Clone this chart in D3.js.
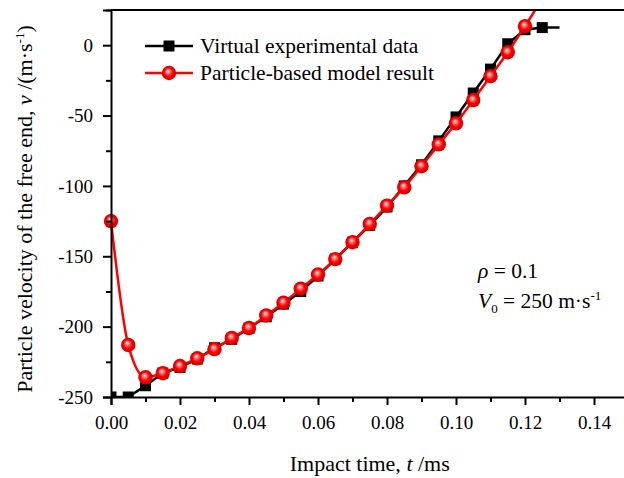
<!DOCTYPE html>
<html>
<head>
<meta charset="utf-8">
<script src="https://cdn.jsdelivr.net/npm/d3@7/dist/d3.min.js"></script>
<style>
  html, body { margin: 0; padding: 0; background: #fff; }
  svg { display: block; font-family: "Liberation Serif", "Times New Roman", Times, serif; }
  text { font-family: "Liberation Serif", "Times New Roman", Times, serif; fill: #000; }
</style>
</head>
<body>
<svg id="chart" width="624" height="478"></svg>
<script>
// Impact time (ms) sampled every 0.005 ms
const timeVirtual = [0, 0.005, 0.01, 0.015, 0.02, 0.025, 0.03, 0.035, 0.04, 0.045, 0.05,
  0.055, 0.06, 0.065, 0.07, 0.075, 0.08, 0.085, 0.09, 0.095, 0.1, 0.105, 0.11, 0.115,
  0.12, 0.125, 0.13];
const velocityVirtual = [-250, -250, -242, -233, -229, -223, -215, -209, -201, -193, -184,
  -175, -164, -152, -140, -128, -115, -100, -85, -68, -51, -34, -17, 1,
  11, 12.5, 12.5];

const timeModel = [0, 0.005, 0.01, 0.015, 0.02, 0.025, 0.03, 0.035, 0.04, 0.045, 0.05,
  0.055, 0.06, 0.065, 0.07, 0.075, 0.08, 0.085, 0.09, 0.095, 0.1, 0.105, 0.11, 0.115,
  0.12, 0.125];
const velocityModel = [-125, -213, -236, -233, -228, -222.5, -216, -208, -201, -192, -183,
  -173, -163, -152, -140, -127, -114, -101, -86, -70.5, -55.5, -39, -22, -5,
  13.5, 33];

const xTicks = [0, 0.02, 0.04, 0.06, 0.08, 0.10, 0.12, 0.14];
const yTicks = [-250, -200, -150, -100, -50, 0];
const legendLabels = ["Virtual experimental data", "Particle-based model result"];

const FONT = "Liberation Serif, Times New Roman, Times, serif";
const svg = d3.select("#chart");
const margin = { left: 111, top: 10, bottom: 81 };
const W = 624, H = 478;
const plotH = H - margin.top - margin.bottom;

const x = d3.scaleLinear().domain([0, 0.15]).range([margin.left, margin.left + 0.15 * 3450]);
const y = d3.scaleLinear().domain([-250, 25]).range([margin.top + plotH, margin.top]);

const defs = svg.append("defs");
defs.append("clipPath").attr("id", "plotClip")
  .append("rect")
  .attr("x", x(0)).attr("y", y(25))
  .attr("width", x(0.15) - x(0)).attr("height", y(-250) - y(25));
defs.append("clipPath").attr("id", "topClip")
  .append("rect")
  .attr("x", 0).attr("y", y(25))
  .attr("width", W).attr("height", H);

const grad = defs.append("radialGradient").attr("id", "ball")
  .attr("cx", "50%").attr("cy", "50%").attr("r", "50%")
  .attr("fx", "42%").attr("fy", "35%");
grad.append("stop").attr("offset", "0%").attr("stop-color", "#ffffff");
grad.append("stop").attr("offset", "25%").attr("stop-color", "#ff8080");
grad.append("stop").attr("offset", "60%").attr("stop-color", "#ff0000");
grad.append("stop").attr("offset", "100%").attr("stop-color", "#d00000");

const virtual = timeVirtual.map((t, i) => ({ t, v: velocityVirtual[i] }));
const model = timeModel.map((t, i) => ({ t, v: velocityModel[i] }));

// Virtual experimental trace: straight segments with square markers
const gVirtual = svg.append("g").attr("clip-path", "url(#plotClip)");
gVirtual.append("path")
  .datum(virtual)
  .attr("fill", "none").attr("stroke", "#000").attr("stroke-width", 2.5)
  .attr("d", d3.line().x(d => x(d.t)).y(d => y(d.v)));
const sq = 11;
gVirtual.selectAll("rect.sq")
  .data(virtual.slice(0, -1))
  .join("rect").attr("class", "sq")
  .attr("x", d => x(d.t) - sq / 2).attr("y", d => y(d.v) - sq / 2)
  .attr("width", sq).attr("height", sq).attr("fill", "#000");

// Particle-based model: smooth curve with shaded ball markers
const gModel = svg.append("g").attr("clip-path", "url(#topClip)");
gModel.append("path")
  .datum(model)
  .attr("fill", "none").attr("stroke", "#ff0000").attr("stroke-width", 2.5)
  .attr("d", d3.line().curve(d3.curveMonotoneX).x(d => x(d.t)).y(d => y(d.v)));
gModel.selectAll("circle.ball")
  .data(model.filter(d => d.v <= 25))
  .join("circle").attr("class", "ball")
  .attr("cx", d => x(d.t)).attr("cy", d => y(d.v)).attr("r", 7.2)
  .attr("fill", "url(#ball)");

// Axes
const xAxis = svg.append("g").attr("transform", `translate(0,${y(-250)})`)
  .call(d3.axisBottom(x).tickValues(xTicks).tickFormat(d3.format(".2f")).tickSize(8).tickPadding(6));
svg.append("g").attr("transform", `translate(0,${y(-250)})`)
  .call(d3.axisBottom(x).tickValues(d3.range(0.01, 0.15, 0.02)).tickFormat("").tickSize(5))
  .select(".domain").remove();
const yAxis = svg.append("g").attr("transform", `translate(${x(0)},0)`)
  .call(d3.axisLeft(y).tickValues(yTicks).tickSize(8).tickPadding(10));
svg.append("g").attr("transform", `translate(${x(0)},0)`)
  .call(d3.axisLeft(y).tickValues([-225, -175, -125, -75, -25, 25]).tickFormat("").tickSize(5))
  .select(".domain").remove();

svg.selectAll("g").attr("font-family", FONT);
svg.selectAll(".domain").attr("stroke", "#000").attr("stroke-width", 2);
svg.selectAll(".tick line").attr("stroke", "#000").attr("stroke-width", 2);
svg.selectAll(".tick text")
  .attr("font-family", FONT)
  .attr("font-size", 19).attr("fill", "#000");
xAxis.selectAll(".tick text").attr("dy", "0.95em");
yAxis.selectAll(".tick text").text(d => d3.format("d")(d).replace("−", "-"));

// Top frame line
svg.append("line")
  .attr("x1", x(0)).attr("x2", x(0.15)).attr("y1", y(25)).attr("y2", y(25))
  .attr("stroke", "#000").attr("stroke-width", 2);

// Axis titles
const xt = svg.append("text")
  .attr("x", (x(0) + x(0.15)) / 2).attr("y", 471)
  .attr("text-anchor", "middle").attr("font-size", 22);
xt.append("tspan").text("Impact time, ");
xt.append("tspan").attr("font-style", "italic").text("t");
xt.append("tspan").text(" /ms");

const yt = svg.append("text")
  .attr("transform", `translate(32,209) rotate(-90)`)
  .attr("text-anchor", "middle").attr("font-size", 22);
yt.append("tspan").text("Particle velocity of the free end, ");
yt.append("tspan").attr("font-style", "italic").text("v");
yt.append("tspan").text(" /(m·s");
yt.append("tspan").attr("font-size", 13).attr("dy", -8).text("-1");
yt.append("tspan").attr("dy", 8).text(")");

// Legend
const leg = svg.append("g");
[0, 1].forEach(i => {
  const ly = 46 + i * 27;
  leg.append("line").attr("x1", 145).attr("x2", 193).attr("y1", ly).attr("y2", ly)
    .attr("stroke", i === 0 ? "#000" : "#ff0000").attr("stroke-width", 2.5);
  if (i === 0) {
    leg.append("rect").attr("x", 169 - sq / 2).attr("y", ly - sq / 2)
      .attr("width", sq).attr("height", sq).attr("fill", "#000");
  } else {
    leg.append("circle").attr("cx", 169).attr("cy", ly).attr("r", 7.2).attr("fill", "url(#ball)");
  }
  leg.append("text").attr("x", 200).attr("y", ly + 7)
    .attr("font-size", 21.5).text(legendLabels[i]);
});

// Parameter annotation
const a1 = svg.append("text").attr("x", 478).attr("y", 278).attr("font-size", 21.5);
a1.append("tspan").attr("font-style", "italic").text("ρ");
a1.append("tspan").text(" = 0.1");
const a2 = svg.append("text").attr("x", 478).attr("y", 308).attr("font-size", 21.5);
a2.append("tspan").attr("font-style", "italic").text("V");
a2.append("tspan").attr("font-size", 13).attr("dy", 5).text("0");
a2.append("tspan").attr("dy", -5).text(" = 250 m·s");
a2.append("tspan").attr("font-size", 13).attr("dy", -8).text("-1");
</script>
</body>
</html>
